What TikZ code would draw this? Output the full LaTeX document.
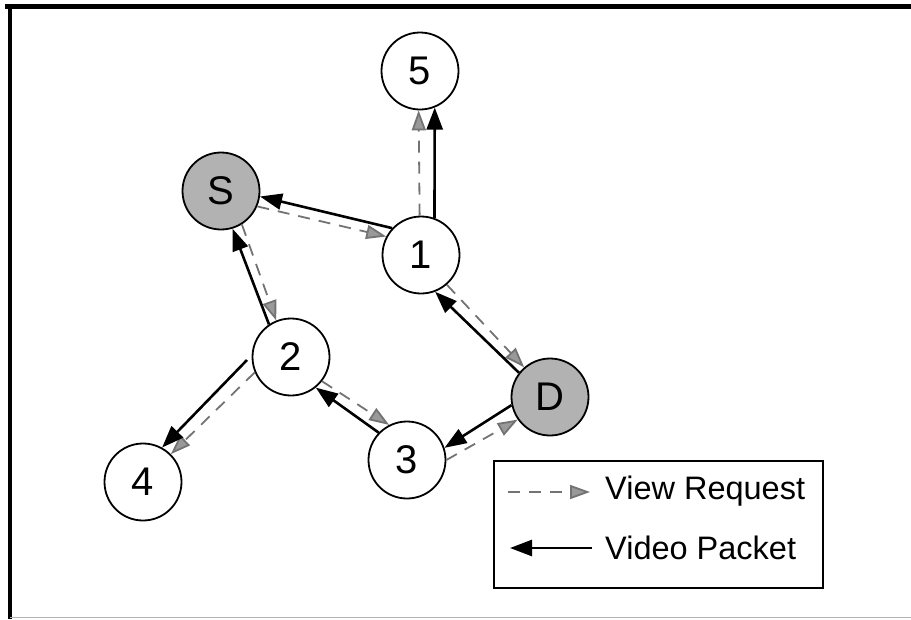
\documentclass[tikz,border=0pt]{standalone}
\usepackage{fontspec}
\setmainfont{Liberation Sans}
\usetikzlibrary{arrows.meta}
\begin{document}
\begin{tikzpicture}[x=1pt,y=-1pt,
  peer/.style={circle,draw=black,line width=1.8pt,minimum size=77pt,inner sep=0pt,
    fill=white,font=\fontsize{40}{40}\selectfont},
  endpoint/.style={peer,fill=black!30},
  request/.style={draw=black!55,line width=1.8pt,dash pattern=on 12pt off 9pt,
    -{Triangle[length=20pt,width=14pt,color=black!55,fill=black!40]}},
  packet/.style={draw=black,line width=2.6pt,
    -{Triangle[length=22pt,width=16pt]}},
  legendtext/.style={anchor=west,inner sep=0pt,font=\fontsize{32.5}{32.5}\selectfont}]

\useasboundingbox (0,0) rectangle (911,619);

% outer frame: heavy top and left rules, faint bottom rule
\draw[line width=4.5pt] (5,6.5) -- (911,6.5);
\draw[line width=4pt] (10,5) -- (10,619);
\draw[black!30,line width=1.2pt] (10,617.5) -- (911,617.5);

% peers
\node[peer]     (n5) at (420,71)  {5};
\node[endpoint] (S)  at (221,191) {S};
\node[peer]     (n1) at (421,255) {1};
\node[peer]     (n2) at (291,357) {2};
\node[endpoint] (D)  at (550,397) {D};
\node[peer]     (n3) at (407,460) {3};
\node[peer]     (n4) at (143,482) {4};

% view requests
\draw[request] (S.-23)  -- (n1.152);
\draw[request] (S.-58)  -- (n2.112);
\draw[request] (n1.92)  -- (n5.-92);
\draw[request] (n1.-49) -- (D.131);
\draw[request] (n2.-38) -- (n3.117);
\draw[request] (n3.0)   -- (D.215);
\draw[request] (n2.203) -- (n4.45);

% video packets
\draw[packet] (n1.137) -- (S.-8);
\draw[packet] (n2.124) -- (S.-73);
\draw[packet] (n1.70)  -- (n5.-68);
\draw[packet] (D.142)  -- (n1.-69);
\draw[packet] (n3.136) -- (n2.-51);
\draw[packet] (D.192)  -- (n3.18);
\coordinate (b4) at (247,360);
\draw[packet] (b4) -- (n4.61);

% legend
\node[draw=black,line width=2.4pt,minimum width=329pt,minimum height=127pt,inner sep=0pt]
  (legend) at (658.5,524.5) {};
\coordinate (r1) at (508,492);
\coordinate (r2) at (590,492);
\coordinate (p1) at (592,548);
\coordinate (p2) at (510,548);
\draw[request] (r1) -- (r2);
\draw[packet] (p1) -- (p2);
\node[legendtext] (lreq) at (605,491) {View Request};
\node[legendtext] (lpkt) at (605,548) {Video Packet};
\end{tikzpicture}
\end{document}
